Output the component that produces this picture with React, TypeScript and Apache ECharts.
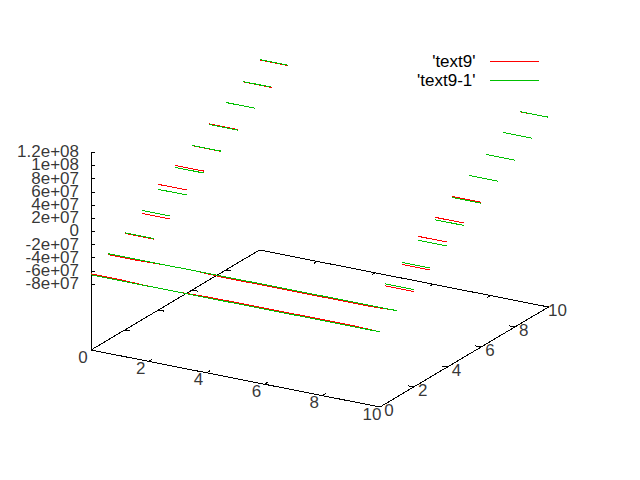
import React, { useEffect, useRef } from "react";
import * as echarts from "echarts";

const SERIES_RED = "'text9'";
const SERIES_GREEN = "'text9-1'";

const fullX = [0, 1, 2, 3, 4, 5, 6, 7, 8, 9, 10];
const edgeLeftX = [0, 1];
const edgeRightX = [9, 10];
const shortRows = [2, 3, 4, 5, 6, 7, 8, 9, 10];

// values in units of 1e7
const redRow0 = [-6.45, -6.45, -6.6, -6.6, -6.45, -6.45, -6.45, -6.45, -6.45, -6.45, -6.6];
const greenRow0 = [-6.6, -6.6, -6.6, -6.6, -6.6, -6.6, -6.6, -6.6, -6.6, -6.6, -6.6];
const redRow1 = [-5.05, -5.05, -4.9, -4.9, -5.05, -5.05, -5.05, -5.05, -5.05, -5.05, -4.9];
const greenRow1 = [-4.9, -4.9, -4.9, -4.9, -4.9, -4.9, -4.9, -4.9, -4.9, -4.9, -4.9];

const redLeft = [-3.33, -1.82, 1.06, 2.42, 3.9, 5.7, 7.42, 9.05, 10.85];
const greenLeft = [-3.24, -1.36, 0.3, 2.12, 3.94, 5.6, 7.42, 9.09, 10.9];
const redRight = [-3.5, -1.77, 0.95, 2.32, 3.98, 5.65, 7.32, 9.14, 10.78];
const greenRight = [-3.2, -1.47, 0.35, 1.95, 3.83, 5.65, 7.32, 9.14, 10.8];

const baseTicks = [0, 2, 4, 6, 8, 10];
const zTickValues = [-8e7, -6e7, -4e7, -2e7, 0, 2e7, 4e7, 6e7, 8e7, 1e8, 1.2e8];
const zTickLabels = ["-8e+07", "-6e+07", "-4e+07", "-2e+07", "0", "2e+07", "4e+07", "6e+07", "8e+07", "1e+08", "1.2e+08"];

const Z_MIN = -1.8e8;
const Z_MAX = 1.2e8;
const GRID_LEFT = 91;
const GRID_TOP = 152.3;
const GRID_H = 197.7;
const GRID_W = 459;
const PX_PER_Z = GRID_H / (Z_MAX - Z_MIN);
const UX = [28.9, 5.7];
const UY = [16.85, -10.0];

const project = (x: number, y: number, z: number) => [
  x * UX[0] + y * UY[0],
  z - (x * UX[1] + y * UY[1]) / PX_PER_Z,
];

const GAP: any = ["-", "-"];

function polyline(xs: number[], y: number, zs: number[]) {
  const pts: any[] = xs.map((x, i) => project(x, y, zs[i] * 1e7));
  pts.push(GAP);
  return pts;
}

function buildRows(row0: number[], row1: number[], left: number[], right: number[]) {
  let out: any[] = [...polyline(fullX, 0, row0), ...polyline(fullX, 1, row1)];
  shortRows.forEach((y, i) => {
    out = out.concat(polyline(edgeLeftX, y, [left[i], left[i]]));
    out = out.concat(polyline(edgeRightX, y, [right[i], right[i]]));
  });
  return out;
}

function buildFrame() {
  const seg = (a: number[], b: number[]) => [project(a[0], a[1], Z_MIN), project(b[0], b[1], Z_MIN), GAP];
  let out: any[] = [
    ...seg([0, 0], [10, 0]),
    ...seg([10, 0], [10, 10]),
    ...seg([10, 10], [0, 10]),
    ...seg([0, 10], [0, 0]),
  ];
  baseTicks.forEach((t) => {
    out = out.concat(seg([t, 0], [t, 0.2]));
    out = out.concat(seg([t, 10], [t, 9.8]));
    out = out.concat(seg([0, t], [0.2, t]));
    out = out.concat(seg([10, t], [9.8, t]));
  });
  return out;
}

const FONT = "Liberation Sans";
const FONT_SIZE = 17;

function tickLabelSeries(data: any[][], offset: number[], align = "center") {
  return {
    type: "scatter",
    silent: true,
    clip: false,
    symbolSize: 0,
    data: data.map((p) => ({ value: [p[0], p[1]], tick: p[2] })),
    label: {
      show: true,
      position: "inside",
      offset,
      align,
      verticalAlign: "middle",
      color: "#000",
      fontFamily: FONT,
      fontSize: FONT_SIZE,
      lineHeight: 13,
      formatter: (p: any) => String(p.data.tick),
    },
  };
}

const legendBase = {
  right: 101,
  orient: "vertical",
  align: "right",
  itemWidth: 49,
  itemHeight: 1,
  lineStyle: { width: 1 },
  itemStyle: { borderWidth: 0, opacity: 0 },
  selectedMode: false,
  padding: 0,
  textStyle: { fontFamily: FONT, fontSize: FONT_SIZE, color: "#000", padding: [0, 9, 0, 0] },
};

export default function App() {
  const ref = useRef<HTMLDivElement>(null);
  useEffect(() => {
    const chart = echarts.init(ref.current!, undefined, { renderer: "svg" });
    chart.setOption({
      animation: false,
      backgroundColor: "#fff",
      legend: [
        { ...legendBase, top: 52.5, data: [SERIES_RED] },
        { ...legendBase, top: 71.5, data: [SERIES_GREEN] },
      ],
      grid: { left: GRID_LEFT, top: GRID_TOP, width: GRID_W, height: GRID_H, containLabel: false },
      xAxis: { type: "value", min: 0, max: GRID_W, show: false },
      yAxis: {
        type: "value",
        min: Z_MIN,
        max: Z_MAX,
        interval: 2e7,
        position: "left",
        splitLine: { show: false },
        axisLine: { show: true, lineStyle: { color: "#000", width: 1 } },
        axisTick: {
          show: true,
          inside: true,
          length: 4,
          lineStyle: { color: "#000", width: 1 },
          customValues: zTickValues,
        },
        axisLabel: { show: false },
      },
      series: [
        {
          type: "line",
          name: "frame",
          silent: true,
          clip: false,
          showSymbol: false,
          symbol: "none",
          connectNulls: false,
          lineStyle: { color: "#000", width: 1 },
          data: buildFrame(),
        },
        {
          type: "line",
          name: SERIES_RED,
          silent: true,
          clip: false,
          symbol: "none",
          connectNulls: false,
          itemStyle: { color: "#ff0000" },
          lineStyle: { color: "#ff0000", width: 1 },
          data: buildRows(redRow0, redRow1, redLeft, redRight),
        },
        {
          type: "line",
          name: SERIES_GREEN,
          silent: true,
          clip: false,
          symbol: "none",
          connectNulls: false,
          itemStyle: { color: "#00c000" },
          lineStyle: { color: "#00c000", width: 1 },
          data: buildRows(greenRow0, greenRow1, greenLeft, greenRight),
        },
        tickLabelSeries(baseTicks.map((t) => [...project(t, 0, Z_MIN), t]), [-8, 7]),
        tickLabelSeries(baseTicks.map((t) => [...project(10, t, Z_MIN), t]), [9, 3]),
        tickLabelSeries(zTickValues.map((z, i) => [...project(0, 0, z), zTickLabels[i]]), [-12, -0.5], "right"),
      ],
    });
    return () => chart.dispose();
  }, []);
  return (
    <>
      <style>{"#plot svg path{shape-rendering:crispEdges}"}</style>
      <div id="plot" ref={ref} style={{ position: "absolute", left: 0, top: 0, width: 640, height: 480 }} />
    </>
  );
}
